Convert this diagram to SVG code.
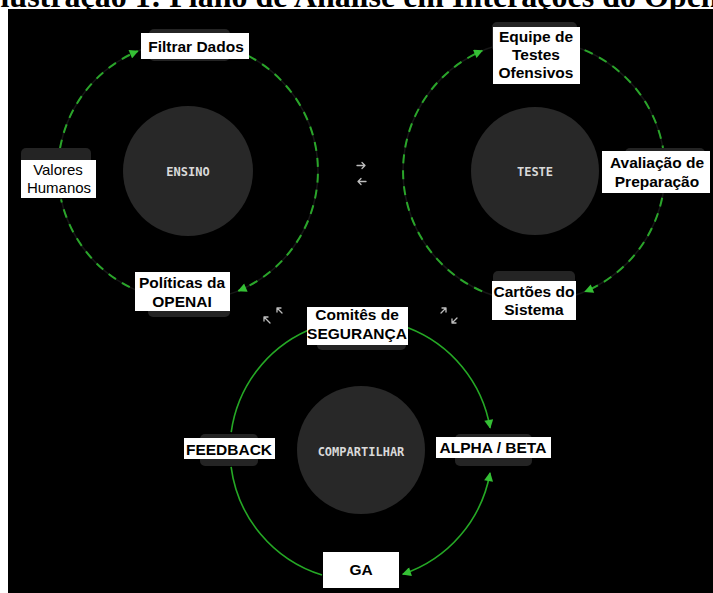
<svg xmlns="http://www.w3.org/2000/svg" width="713" height="593" viewBox="0 0 713 593">
<defs>
<style>
.box{fill:#fff}
.sh{fill:#242424}
.t{font-family:"Liberation Sans",Arial,sans-serif;font-weight:bold;font-size:15.5px;fill:#000;text-anchor:middle}
.tr{font-weight:normal;font-size:15px}
.hub{fill:#282828}
.ht{font-family:"DejaVu Sans Mono",monospace;font-weight:bold;font-size:12px;fill:#d9d9d9;text-anchor:middle}
.under{fill:none;stroke:#161616;stroke-width:1.5}
.dash{fill:none;stroke:#2aa52a;stroke-width:2;stroke-dasharray:9 7}
.solid{fill:none;stroke:#25a825;stroke-width:1.6}
.ga{fill:none;stroke:#bdbdbd;stroke-width:1.3;stroke-linecap:round;stroke-linejoin:round}
</style>
<marker id="ah" viewBox="0 0 10 10" refX="9" refY="5" markerWidth="10" markerHeight="9" markerUnits="userSpaceOnUse" orient="auto-start-reverse">
<path d="M0,0 L10,5 L0,10 z" fill="#35c035"/>
</marker>
</defs>

<text x="-12" y="7" font-family="'Liberation Serif','Times New Roman',serif" font-weight="bold" font-size="32">Ilustração 1: Plano de Análise em Interações do OpenAI</text>
<rect x="8" y="9" width="705" height="584" fill="#000"/>

<g id="hubs">
<g id="hub-ensino"><circle class="hub" cx="188" cy="171" r="65"/><text class="ht" x="188" y="176">ENSINO</text></g>
<g id="hub-teste"><circle class="hub" cx="535" cy="171" r="64"/><text class="ht" x="535" y="176">TESTE</text></g>
<g id="hub-compartilhar"><circle class="hub" cx="361" cy="450" r="64"/><text class="ht" x="361" y="456">COMPARTILHAR</text></g>
</g>

<g id="connectors">
<circle class="under" cx="188" cy="171" r="130"/>
<circle class="under" cx="534" cy="171" r="131"/>
<path class="dash" d="M60,148.4 A130,130 0 0 1 137.8,51.1" marker-end="url(#ah)"/>
<path class="dash" d="M248.4,55.9 A130,130 0 0 1 238.4,290.8" marker-end="url(#ah)"/>
<path class="dash" d="M129.8,287.2 A130,130 0 0 1 61.1,199.4"/>
<path class="dash" d="M482.2,291.3 A131,131 0 0 1 482.2,50.7" marker-end="url(#ah)"/>
<path class="dash" d="M584.6,50.2 A131,131 0 0 1 663,148"/>
<path class="dash" d="M662.2,197.8 A131,131 0 0 1 585,291.7" marker-end="url(#ah)"/>
<path class="solid" d="M408,327.7 A131,131 0 0 1 490.1,427.9" marker-end="url(#ah)"/>
<path class="solid" d="M490,473 A131,131 0 0 1 402.8,574.2" marker-start="url(#ah)" marker-end="url(#ah)"/>
<path class="solid" d="M322,575.1 A131,131 0 0 1 231.1,466.9"/>
<path class="solid" d="M231.2,432.2 A131,131 0 0 1 307.5,330.4"/>
<path class="ga" d="M357,165.5 h8 M362,162.5 l3,3 l-3,3"/>
<path class="ga" d="M366,181.5 h-8 M361,178.5 l-3,3 l3,3"/>
<path class="ga" d="M270,323 l-6,-6 M264,321 v-4 h4"/>
<path class="ga" d="M282,313 l-5,-5 M277,312 v-4 h4"/>
<path class="ga" d="M441,313 l5,-5 M442,308 h4 v4"/>
<path class="ga" d="M457,318 l-5,5 M452,319 v4 h4"/>
</g>

<g id="n-filtrar"><rect class="sh" x="149" y="29" width="81" height="32" rx="5"/><rect class="box" x="141" y="33" width="108" height="26"/><text class="t" x="196" y="52">Filtrar Dados</text></g>
<g id="n-valores"><rect class="sh" x="21" y="148" width="70" height="40" rx="5"/><rect class="box" x="21" y="160" width="75" height="38"/><text class="t tr" x="58" y="175">Valores</text><text class="t tr" x="59" y="193">Humanos</text></g>
<g id="n-politicas"><rect class="sh" x="148" y="287" width="82" height="30" rx="5"/><rect class="box" x="135" y="272" width="95" height="39"/><text class="t" x="182" y="288">Políticas da</text><text class="t" x="182" y="307">OPENAI</text></g>
<g id="n-equipe"><rect class="sh" x="492" y="22" width="85" height="30" rx="5"/><rect class="box" x="493" y="27" width="87" height="57"/><text class="t" x="536" y="42">Equipe de</text><text class="t" x="536" y="60">Testes</text><text class="t" x="536" y="78">Ofensivos</text></g>
<g id="n-avaliacao"><rect class="sh" x="625" y="148" width="80" height="30" rx="5"/><rect class="box" x="602" y="151" width="108" height="42"/><text class="t" x="657" y="168">Avaliação de</text><text class="t" x="657" y="187">Preparação</text></g>
<g id="n-cartoes"><rect class="sh" x="493" y="271" width="82" height="30" rx="5"/><rect class="box" x="492" y="281" width="84" height="39"/><text class="t" x="534" y="297">Cartões do</text><text class="t" x="534" y="315">Sistema</text></g>
<g id="n-comites"><rect class="sh" x="317" y="320" width="89" height="30" rx="5"/><rect class="box" x="307" y="307" width="101" height="38"/><text class="t" x="357" y="320">Comitês de</text><text class="t" x="357" y="339">SEGURANÇA</text></g>
<g id="n-feedback"><rect class="sh" x="200" y="434" width="58" height="32" rx="5"/><rect class="box" x="184" y="438" width="91" height="21"/><text class="t" x="229" y="455">FEEDBACK</text></g>
<g id="n-alpha"><rect class="sh" x="455" y="434" width="77" height="32" rx="5"/><rect class="box" x="436" y="437" width="115" height="21"/><text class="t" x="493" y="453">ALPHA / BETA</text></g>
<g id="n-ga"><rect class="sh" x="323" y="556" width="76" height="30" rx="5"/><rect class="box" x="323" y="552" width="76" height="36"/><text class="t" x="361" y="575">GA</text></g>
</svg>
